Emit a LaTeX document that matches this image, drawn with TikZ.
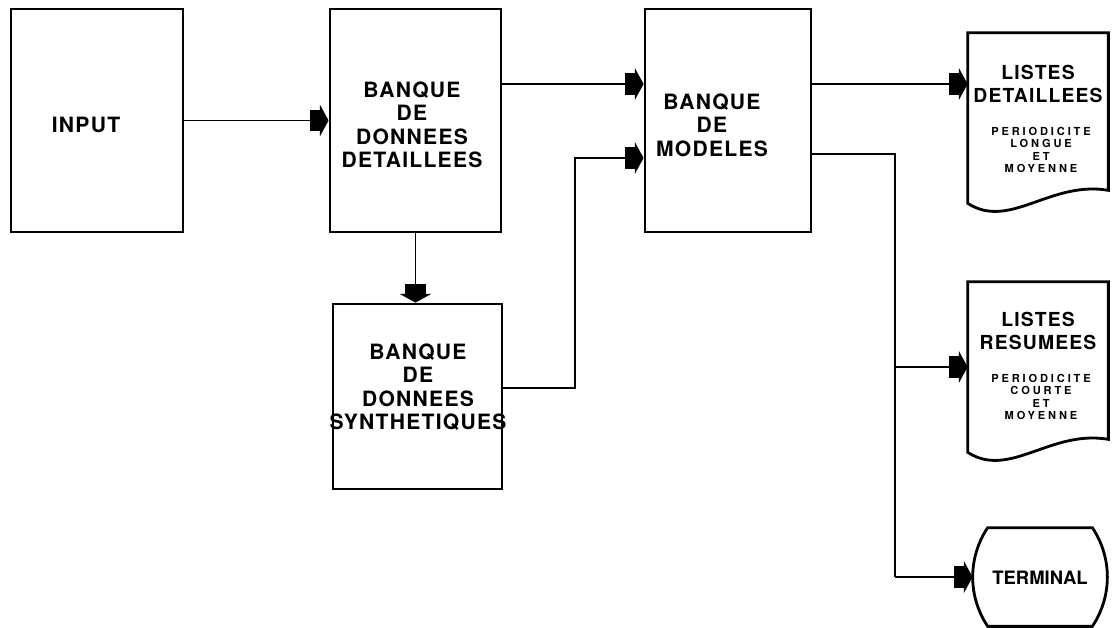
\documentclass[tikz,border=0pt]{standalone}
\usepackage{fontspec}
\setmainfont{TeX Gyre Heros}
\usetikzlibrary{calc,arrows.meta}
\tikzset{
  box/.style={draw,line width=1.6pt,inner sep=0pt},
  doc/.style={inner sep=0pt,minimum width=2.8cm,minimum height=3.4cm},
  outline/.style={line width=1.6pt},
  link/.style={line width=1.1pt},
  flow/.style={link,-{Rectangle[length=5.5pt,width=12pt,sep=0pt]Triangle[length=5pt,width=18pt,sep=0pt]}},
  lbl/.style={align=center,inner sep=0pt,font=\fontsize{12}{13.4}\selectfont\bfseries\addfontfeature{LetterSpace=6}},
  mid/.style={align=center,inner sep=0pt,font=\fontsize{11}{13}\selectfont\bfseries\addfontfeature{LetterSpace=6}},
  note/.style={align=center,inner sep=0pt,font=\fontsize{6.3}{7.1}\selectfont\bfseries\addfontfeature{LetterSpace=26}}
}
\begin{document}
\begin{tikzpicture}[x=0.02cm,y=-0.02cm]
\useasboundingbox (0,0) rectangle (1112,628);
% boxes
\node[box,minimum width=3.44cm,minimum height=4.46cm] (input) at (97,120.5) {};
\node[box,minimum width=3.42cm,minimum height=4.46cm] (ddet) at (415.5,120.5) {};
\node[box,minimum width=3.38cm,minimum height=3.7cm] (dsyn) at (417.5,396.5) {};
\node[box,minimum width=3.32cm,minimum height=4.46cm] (modeles) at (728,120.5) {};
\node[doc] (listd) at (1038,118) {};
\node[doc] (listr) at (1038,367) {};
\node[doc,minimum width=2.68cm,minimum height=1.96cm] (term) at (1040,577) {};
% outlines of the output symbols
\foreach \d in {listd,listr}
  \draw[outline] (\d.north west) -- (\d.north east) -- ([yshift=0.26cm]\d.south east) .. controls +(-58,-10) and +(42,27) .. (\d.south west) -- cycle;
\draw[outline] ([xshift=0.3cm]term.north west) -- ([xshift=-0.3cm]term.north east) .. controls +(20,30) and +(20,-30) .. ([xshift=-0.3cm]term.south east) -- ([xshift=0.3cm]term.south west) .. controls +(-20,-30) and +(-20,30) .. ([xshift=0.3cm]term.north west) -- cycle;
% texts
\node[lbl] (t-input) at (86,125) {INPUT};
\node[lbl] (t-ddet) at (412,125) {BANQUE\\DE\\DONNEES\\DETAILLEES};
\node[lbl] (t-dsyn) at (418,387) {BANQUE\\DE\\DONNEES\\SYNTHETIQUES};
\node[lbl] (t-mod) at (712,125) {BANQUE\\DE\\MODELES};
\node[mid] (t-listd) at (1038,84) {LISTES\\DETAILLEES};
\node[note] (n-listd) at (1041,150) {PERIODICITE\\LONGUE\\ET\\MOYENNE};
\node[mid] (t-listr) at (1038,331) {LISTES\\RESUMEES};
\node[note] (n-listr) at (1041,397) {PERIODICITE\\COURTE\\ET\\MOYENNE};
\node[mid,font=\fontsize{10.5}{12}\selectfont\bfseries] (t-term) at (1040,578) {TERMINAL};
% connectors
\draw[flow] (input) -- (ddet);
\draw[flow] (ddet.east |- 0,84) -- (modeles.west |- 0,84);
\draw[flow] (ddet.south) -- (ddet.south |- dsyn.north);
\draw[flow] (dsyn.east |- 0,388) -| (575,158) -- (modeles.west |- 0,158);
\draw[flow] (modeles.east |- 0,84) -- (listd.west |- 0,84);
\coordinate (bus) at (895,154);
\draw[link] (modeles.east |- bus) -- (bus) -- (bus |- term.west);
\draw[flow] (bus |- listr.west) -- (listr.west);
\draw[flow] (bus |- term.west) -- (term.west);
\end{tikzpicture}
\end{document}
